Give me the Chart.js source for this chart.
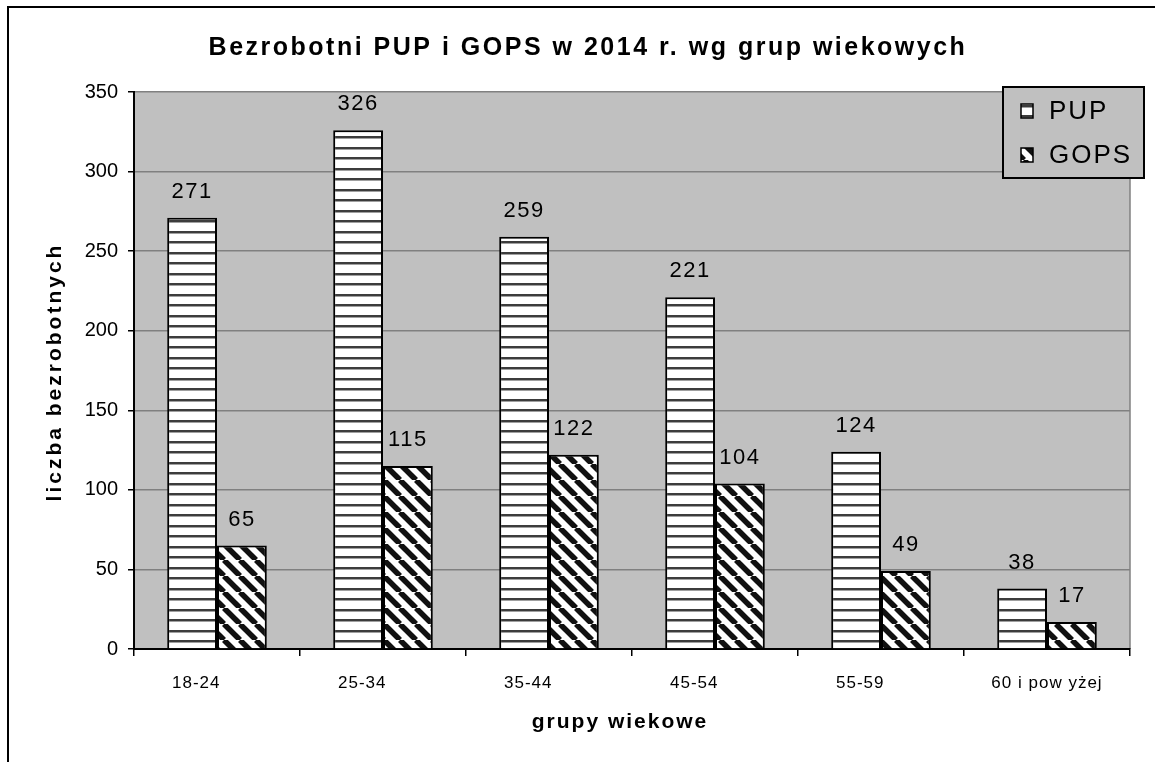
<!DOCTYPE html>
<html>
<head>
<meta charset="utf-8">
<script src="https://cdn.jsdelivr.net/npm/chart.js@4/dist/chart.umd.min.js"></script>
<style>
  html, body { margin: 0; padding: 0; background: #fff; }
  canvas { display: block; }
</style>
</head>
<body>
<canvas id="chart" width="1155" height="762"></canvas>
<script>
const categories = ['18-24', '25-34', '35-44', '45-54', '55-59', '60 i pow yżej'];
const pupValues = [271, 326, 259, 221, 124, 38];
const gopsValues = [65, 115, 122, 104, 49, 17];
const seriesNames = ['PUP', 'GOPS'];
const chartTitle = 'Bezrobotni PUP i GOPS w 2014 r. wg grup wiekowych';
const xTitle = 'grupy wiekowe';
const yTitle = 'liczba bezrobotnych';
const yMax = 350;
const yStep = 50;

const FONT = '"Liberation Sans", Arial, sans-serif';

// horizontal stripes for PUP
function makeHStripes() {
  const c = document.createElement('canvas');
  c.width = 8; c.height = 21;
  const x = c.getContext('2d');
  x.fillStyle = '#fff';
  x.fillRect(0, 0, 8, 21);
  x.fillStyle = '#3c3c3c';
  x.fillRect(0, 0, 8, 2);
  x.fillRect(0, 10, 8, 2);
  x.fillStyle = '#a0a0a0';
  x.fillRect(0, 2, 8, 1);
  x.fillRect(0, 12, 8, 1);
  return x.createPattern(c, 'repeat');
}

// diagonal "\" stripes for GOPS
function makeDiagStripes() {
  const c = document.createElement('canvas');
  c.width = 16; c.height = 16;
  const x = c.getContext('2d');
  x.fillStyle = '#fff';
  x.fillRect(0, 0, 16, 16);
  x.strokeStyle = '#111';
  x.lineWidth = 5.5;
  [-16, 0, 16].forEach(o => {
    x.beginPath();
    x.moveTo(o, 0);
    x.lineTo(o + 16, 16);
    x.stroke();
  });
  return x.createPattern(c, 'repeat');
}

const pupFill = makeHStripes();
const gopsFill = makeDiagStripes();
const fills = [pupFill, gopsFill];

const decor = {
  id: 'decor',
  beforeDraw(chart) {
    const { ctx, chartArea: a } = chart;
    ctx.save();
    ctx.fillStyle = '#fff';
    ctx.fillRect(0, 0, chart.width, chart.height);
    // outer frame (only left/top visible)
    ctx.strokeStyle = '#000';
    ctx.lineWidth = 2;
    ctx.beginPath();
    ctx.moveTo(8, chart.height + 5);
    ctx.lineTo(8, 7);
    ctx.lineTo(chart.width + 5, 7);
    ctx.stroke();
    // plot area
    ctx.fillStyle = '#c0c0c0';
    ctx.fillRect(a.left, a.top, a.right - a.left, a.bottom - a.top);
    ctx.strokeStyle = '#808080';
    ctx.lineWidth = 1.5;
    ctx.beginPath();
    ctx.moveTo(a.right, a.top);
    ctx.lineTo(a.right, a.bottom);
    ctx.stroke();
    ctx.restore();
  },
  afterDraw(chart) {
    const { ctx } = chart;
    ctx.save();
    ctx.fillStyle = '#000';
    ctx.textAlign = 'center';
    ctx.textBaseline = 'middle';

    // title
    ctx.font = 'bold 25px ' + FONT;
    ctx.letterSpacing = '2.5px';
    ctx.fillText(chartTitle, 588, 48);

    // axis titles
    ctx.font = 'bold 21px ' + FONT;
    ctx.letterSpacing = '2px';
    ctx.fillText(xTitle, 620, 722);
    ctx.letterSpacing = '3px';
    ctx.save();
    ctx.translate(55, 372);
    ctx.rotate(-Math.PI / 2);
    ctx.fillText(yTitle, 0, 0);
    ctx.restore();

    // x tick labels: short labels sit left of the category centre, as in the source
    const xs = chart.scales.x;
    ctx.font = '17px ' + FONT;
    ctx.letterSpacing = '1px';
    categories.forEach((lab, i) => {
      const c = xs.getPixelForTick(i);
      const w = ctx.measureText(lab).width;
      const left = Math.min(c - w / 2, c - 45);
      ctx.fillText(lab, left + w / 2, 683);
    });

    // value labels
    ctx.font = '22px ' + FONT;
    ctx.letterSpacing = '1.5px';
    chart.data.datasets.forEach((ds, i) => {
      chart.getDatasetMeta(i).data.forEach((bar, j) => {
        ctx.fillText(String(ds.data[j]), bar.x, bar.y - 26);
      });
    });

    // legend
    ctx.letterSpacing = '0px';
    ctx.fillStyle = '#c0c0c0';
    ctx.fillRect(1003, 87, 141, 91);
    ctx.strokeStyle = '#000';
    ctx.lineWidth = 2;
    ctx.strokeRect(1003, 87, 141, 91);
    const rows = [111, 155];
    ctx.font = '26px ' + FONT;
    ctx.letterSpacing = '2px';
    ctx.textAlign = 'left';
    seriesNames.forEach((name, i) => {
      const y = rows[i];
      ctx.fillStyle = fills[i];
      ctx.fillRect(1021, y - 7, 12, 14);
      ctx.lineWidth = 1.5;
      ctx.strokeRect(1021, y - 7, 12, 14);
      ctx.fillStyle = '#000';
      ctx.fillText(name, 1049, y + 1);
    });
    ctx.restore();
  }
};

new Chart(document.getElementById('chart'), {
  type: 'bar',
  data: {
    labels: categories,
    datasets: [
      { label: seriesNames[0], data: pupValues, backgroundColor: pupFill, borderColor: '#000', borderWidth: 2 },
      { label: seriesNames[1], data: gopsValues, backgroundColor: gopsFill, borderColor: '#000', borderWidth: 2 }
    ]
  },
  options: {
    responsive: false,
    animation: false,
    layout: { padding: { left: 0, top: 92, right: 25, bottom: 0 } },
    datasets: { bar: { categoryPercentage: 0.6, barPercentage: 1.0 } },
    scales: {
      x: {
        grid: { offset: true, drawOnChartArea: false, color: '#000', tickLength: 7, lineWidth: 1.5 },
        border: { color: '#000', width: 2 },
        ticks: { display: false },
        afterFit(s) { s.height = 113; }
      },
      y: {
        min: 0,
        max: yMax,
        ticks: { stepSize: yStep, color: '#000', font: { family: FONT, size: 20 }, padding: 10 },
        grid: { color: '#808080', tickColor: '#000', tickLength: 6, lineWidth: 1.5 },
        border: { color: '#000', width: 2 },
        afterFit(s) { s.width = 134; }
      }
    },
    plugins: {
      legend: { display: false },
      title: { display: false },
      tooltip: { enabled: false }
    }
  },
  plugins: [decor]
});
</script>
</body>
</html>
